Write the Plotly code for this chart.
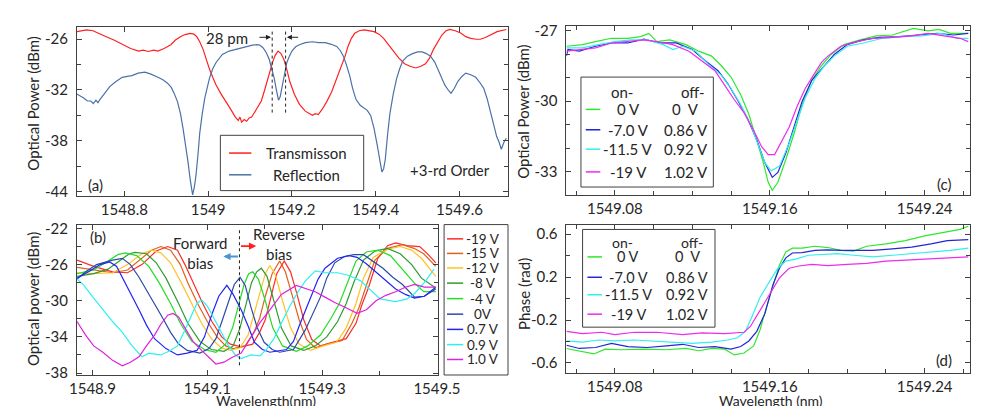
import plotly.graph_objects as go

# ---------------- Panel (a): transmission / reflection ----------------
a_trans_x = [1548.687, 1548.700, 1548.710, 1548.725, 1548.740, 1548.757, 1548.775, 1548.795, 1548.815, 1548.834,
             1548.845, 1548.857, 1548.870, 1548.880, 1548.895, 1548.911, 1548.922, 1548.934, 1548.945, 1548.957,
             1548.966, 1548.973, 1548.980, 1548.988, 1548.995, 1549.003, 1549.011, 1549.019, 1549.030, 1549.042,
             1549.053, 1549.065, 1549.072, 1549.076, 1549.080, 1549.086, 1549.092, 1549.098, 1549.104, 1549.115,
             1549.127, 1549.135, 1549.142, 1549.148, 1549.154, 1549.160, 1549.167, 1549.174, 1549.181, 1549.188,
             1549.195, 1549.206, 1549.218, 1549.232, 1549.242, 1549.249, 1549.256, 1549.263, 1549.272, 1549.283,
             1549.295, 1549.307, 1549.319, 1549.327, 1549.334, 1549.342, 1549.350, 1549.361, 1549.373, 1549.385,
             1549.396, 1549.408, 1549.419, 1549.430, 1549.442, 1549.455, 1549.469, 1549.482, 1549.496, 1549.508,
             1549.519, 1549.529, 1549.538, 1549.548, 1549.558, 1549.568, 1549.577, 1549.590, 1549.604, 1549.615,
             1549.627, 1549.640, 1549.650, 1549.662, 1549.673, 1549.690, 1549.712]
a_trans_y = [-25.1, -24.95, -24.9, -25.0, -25.3, -25.7, -26.1, -26.65, -27.1, -27.4,
             -27.3, -27.45, -27.3, -27.4, -27.1, -26.65, -26.1, -25.7, -25.45, -25.3,
             -25.4, -25.7, -26.3, -27.2, -28.3, -29.5, -30.5, -31.4, -32.4, -33.3,
             -34.2, -35.2, -35.6, -35.2, -35.8, -35.5, -35.7, -35.3, -35.2, -34.3,
             -33.3, -32.0, -30.65, -29.6, -28.7, -27.9, -27.4, -27.7, -28.4, -29.6,
             -31.0, -32.5, -33.7, -34.5, -34.8, -35.0, -34.8, -34.9, -34.3, -33.4,
             -32.2, -30.7, -29.1, -28.0, -26.85, -25.9, -25.3, -25.0, -24.9, -25.0,
             -25.1, -25.4, -25.9, -26.6, -27.4, -28.2, -28.9, -29.2, -29.4, -29.2,
             -28.9, -28.2, -27.2, -26.3, -25.5, -25.0, -24.85, -25.0, -25.3, -25.7,
             -25.9, -26.0, -26.0, -25.8, -25.5, -25.1, -24.85]

a_refl_x = [1548.684, 1548.695, 1548.703, 1548.712, 1548.720, 1548.726, 1548.732, 1548.737, 1548.742, 1548.753,
            1548.765, 1548.780, 1548.795, 1548.807, 1548.818, 1548.833, 1548.849, 1548.862, 1548.872, 1548.880,
            1548.892, 1548.903, 1548.912, 1548.919, 1548.927, 1548.934, 1548.940, 1548.946, 1548.952, 1548.957,
            1548.963, 1548.967, 1548.971, 1548.976, 1548.980, 1548.986, 1548.992, 1549.003, 1549.011, 1549.019,
            1549.034, 1549.050, 1549.065, 1549.080, 1549.096, 1549.106, 1549.115, 1549.123, 1549.131, 1549.139,
            1549.146, 1549.152, 1549.158, 1549.163, 1549.168, 1549.172, 1549.177, 1549.182, 1549.188, 1549.194,
            1549.200, 1549.209, 1549.218, 1549.232, 1549.249, 1549.264, 1549.280, 1549.294, 1549.307, 1549.315,
            1549.323, 1549.330, 1549.338, 1549.345, 1549.353, 1549.363, 1549.373, 1549.380, 1549.388, 1549.396,
            1549.403, 1549.410, 1549.415, 1549.419, 1549.423, 1549.428, 1549.434, 1549.442, 1549.450, 1549.458,
            1549.465, 1549.476, 1549.488, 1549.500, 1549.511, 1549.521, 1549.531, 1549.541, 1549.550, 1549.558,
            1549.565, 1549.573, 1549.580, 1549.588, 1549.596, 1549.606, 1549.615, 1549.627, 1549.639, 1549.650,
            1549.658, 1549.666, 1549.673, 1549.681, 1549.689, 1549.695, 1549.700, 1549.706, 1549.712]
a_refl_y = [-32.4, -32.7, -32.95, -33.3, -33.3, -33.6, -33.2, -33.5, -33.1, -32.4,
            -31.6, -31.0, -30.5, -30.4, -30.3, -30.0, -29.9, -30.1, -30.3, -30.5,
            -30.8, -31.2, -31.7, -32.4, -33.4, -34.8, -36.5, -38.3, -40.5, -42.5,
            -44.4, -43.5, -42.1, -39.5, -37.1, -34.8, -32.95, -30.65, -29.5, -28.75,
            -27.8, -27.4, -27.2, -27.0, -26.85, -26.7, -26.65, -26.7, -27.0, -27.6,
            -28.4, -29.4, -30.65, -32.0, -33.2, -32.8, -31.4, -30.0, -28.75, -28.0,
            -27.4, -26.9, -26.65, -26.4, -26.3, -26.4, -26.4, -26.6, -26.85, -27.3,
            -28.0, -29.0, -30.3, -31.8, -33.1, -33.8, -34.1, -34.4, -35.0, -36.5,
            -38.3, -40.3, -41.7, -41.3, -40.2, -37.5, -34.8, -32.5, -30.65, -29.4,
            -28.55, -28.0, -27.7, -27.5, -27.5, -27.7, -28.0, -28.7, -29.7, -30.6,
            -31.4, -32.0, -32.4, -31.8, -31.0, -30.4, -30.0, -30.2, -30.5, -31.2,
            -31.8, -33.0, -34.45, -36.0, -37.5, -38.2, -39.0, -38.2, -37.7]

# ---------------- Panel (b): bias sweep ----------------
b_labels = ["-19 V", "-15 V", "-12 V", "-8 V", "-4 V", "0V", "0.7 V", "0.9 V", "1.0 V"]
b_colors = ["#ff2a2a", "#e0601a", "#ffc226", "#2f9a2f", "#22dd22", "#2a4aa8", "#2323f5", "#2ef0f0", "#dd22dd"]

b_m19_x = [1548.873, 1548.902, 1548.935, 1548.961, 1548.986, 1549.011, 1549.031, 1549.048, 1549.061, 1549.075,
           1549.092, 1549.108, 1549.125, 1549.140, 1549.159, 1549.179, 1549.191, 1549.201, 1549.211, 1549.221,
           1549.234, 1549.245, 1549.255, 1549.268, 1549.282, 1549.297, 1549.318, 1549.342, 1549.359, 1549.369,
           1549.381, 1549.397, 1549.414, 1549.428, 1549.448, 1549.470, 1549.485, 1549.498]
b_m19_y = [-25.5, -26.2, -26.8, -26.9, -26.0, -24.5, -24.0, -24.4, -26.0, -28.0,
           -30.3, -32.3, -34.0, -34.8, -35.1, -34.8, -33.5, -32.1, -29.5, -27.0,
           -25.6, -26.8, -29.0, -32.1, -34.3, -35.0, -34.6, -34.2, -32.5, -30.5,
           -28.5, -25.3, -23.9, -23.6, -23.9, -24.0, -24.9, -25.8]

b_m15_x = [1548.873, 1548.902, 1548.935, 1548.961, 1548.982, 1549.003, 1549.019, 1549.036, 1549.053, 1549.066,
           1549.083, 1549.100, 1549.117, 1549.132, 1549.145, 1549.166, 1549.181, 1549.191, 1549.201, 1549.213,
           1549.226, 1549.236, 1549.246, 1549.260, 1549.273, 1549.288, 1549.308, 1549.335, 1549.352, 1549.364,
           1549.376, 1549.392, 1549.414, 1549.440, 1549.460, 1549.477, 1549.498]
b_m15_y = [-26.3, -26.6, -26.9, -26.6, -25.5, -24.4, -24.0, -24.4, -26.0, -28.0,
           -30.3, -32.3, -34.0, -35.0, -35.3, -35.0, -33.5, -32.0, -29.5, -27.0,
           -25.6, -26.8, -29.0, -32.1, -34.3, -35.2, -34.8, -34.4, -32.5, -30.8,
           -28.5, -25.5, -24.2, -23.8, -24.2, -24.8, -26.2]

b_m12_x = [1548.873, 1548.902, 1548.935, 1548.961, 1548.986, 1549.003, 1549.019, 1549.036, 1549.053, 1549.073,
           1549.090, 1549.107, 1549.124, 1549.140, 1549.157, 1549.171, 1549.181, 1549.191, 1549.201, 1549.209,
           1549.219, 1549.231, 1549.245, 1549.260, 1549.280, 1549.302, 1549.325, 1549.342, 1549.359, 1549.372,
           1549.389, 1549.414, 1549.436, 1549.456, 1549.473, 1549.498]
b_m12_y = [-26.9, -27.0, -26.9, -26.0, -24.8, -24.4, -24.7, -25.8, -27.8, -30.3,
           -32.5, -34.2, -35.2, -35.5, -35.2, -33.8, -31.5, -29.0, -27.0, -26.1,
           -27.2, -30.0, -33.0, -34.8, -35.5, -35.0, -34.6, -33.0, -30.3, -27.5,
           -25.2, -24.3, -24.0, -24.4, -25.3, -27.3]

b_m8_x = [1548.873, 1548.902, 1548.927, 1548.949, 1548.964, 1548.974, 1548.994, 1549.011, 1549.028, 1549.050,
          1549.066, 1549.087, 1549.107, 1549.129, 1549.145, 1549.157, 1549.167, 1549.177, 1549.186, 1549.194,
          1549.204, 1549.216, 1549.229, 1549.246, 1549.268, 1549.288, 1549.308, 1549.327, 1549.342, 1549.355,
          1549.372, 1549.392, 1549.414, 1549.436, 1549.456, 1549.473, 1549.498]
b_m8_y = [-27.3, -27.0, -26.5, -25.5, -24.8, -24.65, -24.8, -25.8, -27.5, -30.3,
          -32.5, -34.5, -35.4, -35.6, -35.0, -33.0, -30.5, -28.0, -26.8, -26.4,
          -27.3, -30.0, -33.0, -35.0, -35.5, -35.0, -34.0, -32.3, -30.3, -28.0,
          -25.5, -24.5, -24.2, -24.8, -26.0, -27.5, -28.6]

b_m4_x = [1548.873, 1548.902, 1548.927, 1548.944, 1548.957, 1548.977, 1548.998, 1549.016, 1549.036, 1549.053,
          1549.073, 1549.095, 1549.115, 1549.132, 1549.144, 1549.154, 1549.164, 1549.172, 1549.179, 1549.189,
          1549.201, 1549.214, 1549.231, 1549.255, 1549.275, 1549.297, 1549.315, 1549.330, 1549.344, 1549.359,
          1549.377, 1549.397, 1549.419, 1549.440, 1549.460, 1549.477, 1549.498]
b_m4_y = [-27.0, -26.6, -25.6, -24.9, -24.7, -25.0, -26.2, -28.0, -30.3, -32.5,
          -34.5, -35.4, -35.7, -34.8, -33.0, -30.5, -28.2, -27.0, -26.8, -27.6,
          -30.0, -33.0, -35.0, -35.6, -35.0, -33.8, -32.0, -30.3, -28.0, -25.6,
          -24.6, -24.4, -25.0, -26.5, -28.0, -29.0, -29.0]

b_0_x = [1548.873, 1548.888, 1548.907, 1548.935, 1548.952, 1548.966, 1548.981, 1548.994, 1549.008, 1549.023,
         1549.036, 1549.050, 1549.065, 1549.087, 1549.103, 1549.115, 1549.127, 1549.137, 1549.147, 1549.157,
         1549.166, 1549.176, 1549.187, 1549.199, 1549.213, 1549.226, 1549.250, 1549.271, 1549.283, 1549.297,
         1549.308, 1549.322, 1549.339, 1549.355, 1549.372, 1549.389, 1549.406, 1549.423, 1549.440, 1549.461,
         1549.478, 1549.498]
b_0_y = [-27.6, -26.8, -26.0, -25.5, -25.3, -26.0, -27.4, -28.8, -30.3, -32.0,
         -33.5, -34.8, -35.5, -35.8, -35.3, -34.2, -32.0, -30.0, -28.2, -27.4,
         -28.3, -30.7, -33.0, -34.6, -35.4, -35.7, -35.4, -33.2, -31.5, -29.6,
         -27.5, -25.8, -25.1, -24.9, -24.9, -25.6, -26.4, -27.4, -28.2, -29.6,
         -29.5, -28.7]

b_p07_x = [1548.873, 1548.893, 1548.913, 1548.930, 1548.942, 1548.952, 1548.966, 1548.981, 1548.994, 1549.008,
           1549.028, 1549.048, 1549.065, 1549.082, 1549.095, 1549.108, 1549.120, 1549.134, 1549.145, 1549.159,
           1549.171, 1549.182, 1549.196, 1549.209, 1549.238, 1549.250, 1549.260, 1549.271, 1549.283, 1549.293,
           1549.305, 1549.327, 1549.347, 1549.361, 1549.377, 1549.394, 1549.411, 1549.428, 1549.445, 1549.461,
           1549.478, 1549.498]
b_p07_y = [-27.5, -26.8, -26.0, -25.7, -26.2, -27.4, -29.2, -31.0, -32.7, -34.2,
           -35.3, -36.0, -35.8, -35.5, -34.0, -31.5, -29.5, -28.3, -29.3, -31.0,
           -32.8, -34.6, -35.4, -35.7, -35.4, -34.5, -32.8, -31.0, -29.2, -27.6,
           -26.4, -25.3, -25.0, -25.2, -25.9, -26.8, -27.8, -28.7, -29.3, -29.7,
           -29.5, -28.5]

b_p09_x = [1548.873, 1548.885, 1548.902, 1548.918, 1548.935, 1548.952, 1548.969, 1548.986, 1548.998, 1549.008,
           1549.019, 1549.033, 1549.048, 1549.061, 1549.073, 1549.082, 1549.090, 1549.100, 1549.112, 1549.125,
           1549.137, 1549.149, 1549.159, 1549.176, 1549.192, 1549.204, 1549.216, 1549.229, 1549.243, 1549.258,
           1549.271, 1549.288, 1549.305, 1549.327, 1549.347, 1549.367, 1549.384, 1549.401, 1549.428, 1549.448,
           1549.461, 1549.478, 1549.495]
b_p09_y = [-27.6, -28.3, -29.7, -31.0, -32.3, -33.5, -35.0, -36.2, -35.8, -35.9,
           -36.0, -35.6, -35.0, -33.2, -31.5, -30.3, -29.9, -30.6, -32.0, -33.5,
           -35.0, -36.0, -36.4, -36.0, -36.1, -35.3, -34.2, -32.5, -30.7, -29.0,
           -27.8, -26.7, -26.9, -26.9, -27.2, -27.8, -28.8, -29.8, -30.1, -29.8,
           -29.2, -28.0, -26.5]

b_p10_x = [1548.873, 1548.888, 1548.902, 1548.918, 1548.935, 1548.952, 1548.966, 1548.981, 1548.994, 1549.008,
           1549.019, 1549.031, 1549.040, 1549.050, 1549.061, 1549.075, 1549.090, 1549.103, 1549.115, 1549.129,
           1549.142, 1549.159, 1549.176, 1549.192, 1549.209, 1549.229, 1549.255, 1549.271, 1549.288, 1549.305,
           1549.322, 1549.339, 1549.361, 1549.377, 1549.394, 1549.411, 1549.428, 1549.445, 1549.461, 1549.478,
           1549.498]
b_p10_y = [-32.3, -33.8, -35.0, -35.7, -36.6, -37.2, -36.8, -36.2, -35.0, -33.8,
           -32.6, -31.6, -31.4, -31.8, -33.0, -34.5, -35.5, -36.3, -37.0, -36.8,
           -36.3, -35.8, -34.0, -32.4, -31.0, -29.3, -28.3, -28.6, -29.0, -29.6,
           -30.2, -30.7, -31.4, -31.0, -30.0, -29.4, -29.0, -28.5, -28.2, -28.5,
           -28.5]

b_series = [(b_m19_x, b_m19_y), (b_m15_x, b_m15_y), (b_m12_x, b_m12_y), (b_m8_x, b_m8_y), (b_m4_x, b_m4_y),
            (b_0_x, b_0_y), (b_p07_x, b_p07_y), (b_p09_x, b_p09_y), (b_p10_x, b_p10_y)]

# ---------------- Panels (c) and (d) ----------------
cd_on = ["0 V", "-7.0 V", "-11.5 V", "-19 V"]
cd_off = ["0  V", "0.86 V", "0.92 V", "1.02 V"]
cd_colors = ["#2ee82e", "#2424d8", "#33eeee", "#ee2aee"]

c_g_x = [1549.055, 1549.0633, 1549.07, 1549.0783, 1549.0867, 1549.0933, 1549.0975, 1549.1017, 1549.1083, 1549.1167,
         1549.1233, 1549.13, 1549.135, 1549.14, 1549.145, 1549.1492, 1549.1533, 1549.1567, 1549.1592, 1549.1613,
         1549.1642, 1549.1683, 1549.1725, 1549.1767, 1549.1817, 1549.1867, 1549.1917, 1549.1983, 1549.2067, 1549.215,
         1549.2233, 1549.2342, 1549.2417, 1549.2475, 1549.2533, 1549.2625]
c_g_y = [-27.66, -27.59, -27.46, -27.32, -27.32, -27.25, -27.11, -27.46, -27.39, -27.59,
         -27.87, -28.08, -28.49, -28.97, -29.73, -30.56, -31.66, -32.63, -33.46, -33.80,
         -33.46, -32.49, -31.39, -30.14, -29.11, -28.49, -28.01, -27.59, -27.39, -27.22,
         -27.18, -26.90, -27.0, -26.94, -27.11, -27.11]

c_b_x = [1549.055, 1549.0558, 1549.0617, 1549.07, 1549.0783, 1549.0867, 1549.095, 1549.1033, 1549.1117, 1549.12,
         1549.1267, 1549.1333, 1549.1383, 1549.1433, 1549.1483, 1549.1533, 1549.1575, 1549.1613, 1549.1642, 1549.1683,
         1549.1725, 1549.1767, 1549.1817, 1549.1867, 1549.1933, 1549.2, 1549.2083, 1549.2167, 1549.2267, 1549.2367,
         1549.2467, 1549.255, 1549.2625]
c_b_y = [-28.08, -27.80, -27.87, -27.66, -27.52, -27.52, -27.36, -27.52, -27.52, -27.80,
         -28.28, -28.70, -29.25, -29.94, -30.70, -31.66, -32.63, -33.25, -33.04, -32.21,
         -31.11, -30.01, -29.11, -28.63, -28.01, -27.59, -27.39, -27.28, -27.25, -27.18,
         -27.11, -27.18, -27.11]

c_c_x = [1549.055, 1549.0633, 1549.0717, 1549.08, 1549.0883, 1549.0967, 1549.105, 1549.11, 1549.115, 1549.1217,
         1549.1283, 1549.135, 1549.14, 1549.145, 1549.15, 1549.1542, 1549.1575, 1549.1608, 1549.165, 1549.17,
         1549.1742, 1549.1783, 1549.1833, 1549.1883, 1549.1933, 1549.2, 1549.2083, 1549.2183, 1549.2283, 1549.2383,
         1549.2483, 1549.2567, 1549.2625]
c_c_y = [-27.73, -27.73, -27.59, -27.46, -27.39, -27.39, -27.59, -27.80, -27.66, -27.87,
         -28.42, -28.90, -29.46, -30.14, -30.97, -31.94, -32.63, -32.97, -32.77, -31.80,
         -30.83, -29.87, -29.04, -28.49, -28.08, -27.66, -27.52, -27.32, -27.25, -27.22,
         -27.11, -27.32, -27.32]

c_m_x = [1549.055, 1549.0617, 1549.07, 1549.0783, 1549.0867, 1549.095, 1549.1017, 1549.11, 1549.1183, 1549.125,
         1549.1317, 1549.1367, 1549.1417, 1549.1467, 1549.1517, 1549.1558, 1549.1592, 1549.1625, 1549.1667, 1549.17,
         1549.1742, 1549.1783, 1549.1825, 1549.1867, 1549.19, 1549.1967, 1549.205, 1549.2133, 1549.2233, 1549.2333,
         1549.2417, 1549.25, 1549.2583, 1549.2625]
c_m_y = [-27.87, -27.80, -27.73, -27.52, -27.46, -27.39, -27.46, -27.59, -27.87, -28.28,
         -28.70, -29.32, -29.94, -30.49, -31.25, -31.94, -32.28, -32.28, -31.66, -31.11,
         -30.21, -29.46, -28.90, -28.35, -28.08, -27.66, -27.46, -27.32, -27.28, -27.22,
         -27.11, -27.22, -27.32, -27.46]

d_g_x = [1549.055, 1549.0617, 1549.0692, 1549.075, 1549.0833, 1549.095, 1549.1067, 1549.1167, 1549.1233, 1549.13,
         1549.1367, 1549.1417, 1549.1467, 1549.1517, 1549.155, 1549.1583, 1549.1617, 1549.165, 1549.1683, 1549.1717,
         1549.1767, 1549.1833, 1549.19, 1549.1967, 1549.2033, 1549.21, 1549.22, 1549.23, 1549.24, 1549.25,
         1549.2583, 1549.2625]
d_g_y = [-0.465, -0.486, -0.516, -0.471, -0.477, -0.471, -0.477, -0.465, -0.486, -0.465,
         -0.471, -0.525, -0.507, -0.441, -0.290, -0.079, 0.132, 0.313, 0.434, 0.470,
         0.470, 0.488, 0.476, 0.449, 0.443, 0.488, 0.510, 0.540, 0.585, 0.621,
         0.645, 0.675]

d_b_x = [1549.055, 1549.0617, 1549.07, 1549.0783, 1549.0867, 1549.0967, 1549.1067, 1549.115, 1549.1233, 1549.1317,
         1549.14, 1549.145, 1549.1492, 1549.1533, 1549.1575, 1549.1617, 1549.165, 1549.1683, 1549.1717, 1549.1767,
         1549.1833, 1549.19, 1549.1967, 1549.2033, 1549.2133, 1549.2233, 1549.2333, 1549.2433, 1549.2517, 1549.2625]
d_b_y = [-0.435, -0.465, -0.456, -0.417, -0.447, -0.456, -0.441, -0.426, -0.456, -0.447,
         -0.471, -0.447, -0.395, -0.305, -0.139, 0.132, 0.283, 0.380, 0.425, 0.428,
         0.449, 0.455, 0.449, 0.449, 0.449, 0.464, 0.479, 0.510, 0.540, 0.549]

d_c_x = [1549.055, 1549.0633, 1549.0717, 1549.08, 1549.09, 1549.1, 1549.11, 1549.12, 1549.13, 1549.1383,
         1549.1433, 1549.1475, 1549.1508, 1549.155, 1549.16, 1549.1642, 1549.1683, 1549.1733, 1549.18, 1549.1867,
         1549.195, 1549.2033, 1549.2133, 1549.2233, 1549.2333, 1549.2433, 1549.2533, 1549.2625]
d_c_y = [-0.395, -0.405, -0.386, -0.395, -0.386, -0.395, -0.405, -0.417, -0.405, -0.386,
         -0.365, -0.305, -0.169, 0.012, 0.163, 0.283, 0.350, 0.368, 0.404, 0.410,
         0.419, 0.404, 0.389, 0.404, 0.419, 0.434, 0.449, 0.470]

d_m_x = [1549.055, 1549.0633, 1549.0733, 1549.08, 1549.09, 1549.1017, 1549.115, 1549.125, 1549.1367, 1549.1467,
         1549.15, 1549.155, 1549.16, 1549.165, 1549.17, 1549.175, 1549.1817, 1549.19, 1549.2, 1549.21,
         1549.22, 1549.23, 1549.24, 1549.25, 1549.2625]
d_m_y = [-0.305, -0.326, -0.314, -0.335, -0.314, -0.314, -0.335, -0.320, -0.326, -0.314,
         -0.260, -0.109, 0.042, 0.193, 0.283, 0.304, 0.319, 0.307, 0.319, 0.328,
         0.350, 0.359, 0.368, 0.374, 0.389]

c_series = [(c_g_x, c_g_y), (c_b_x, c_b_y), (c_c_x, c_c_y), (c_m_x, c_m_y)]
d_series = [(d_g_x, d_g_y), (d_b_x, d_b_y), (d_c_x, d_c_y), (d_m_x, d_m_y)]

# tick labels
a_yticks = [-26, -32, -38, -44]
b_yticks = [-22, -26, -30, -34, -38]
c_yticks = [-27, -30, -33]
d_yticks = [0.6, 0.2, -0.2, -0.6]

FONT = "Lato"
TXT = "#262626"
AX = "#404040"
W, H = 985, 406

fig = go.Figure()
LW = 1.2
fig.add_trace(go.Scatter(x=a_trans_x, y=a_trans_y, mode="lines", line=dict(color="#ff2020", width=LW),
                         name="Transmisson", xaxis="x", yaxis="y", showlegend=False))
fig.add_trace(go.Scatter(x=a_refl_x, y=a_refl_y, mode="lines", line=dict(color="#4a72a8", width=LW),
                         name="Reflection", xaxis="x", yaxis="y", showlegend=False))
for (xs, ys), lab, col in zip(b_series, b_labels, b_colors):
    fig.add_trace(go.Scatter(x=xs, y=ys, mode="lines", line=dict(color=col, width=LW), name=lab,
                             xaxis="x2", yaxis="y2", showlegend=False))
for (xs, ys), lab, col in zip(c_series, cd_on, cd_colors):
    fig.add_trace(go.Scatter(x=xs, y=ys, mode="lines", line=dict(color=col, width=LW), name=lab,
                             xaxis="x3", yaxis="y3", showlegend=False))
for (xs, ys), lab, col in zip(d_series, cd_on, cd_colors):
    fig.add_trace(go.Scatter(x=xs, y=ys, mode="lines", line=dict(color=col, width=LW), name=lab,
                             xaxis="x4", yaxis="y4", showlegend=False))


def px(xp):
    return xp / W


def py(yp):
    return 1 - yp / H


def axis(domain, rng, anchor, **kw):
    d = dict(domain=domain, range=rng, anchor=anchor, showline=True, linecolor=AX, linewidth=1,
             mirror="ticks", ticks="inside", ticklen=5, tickcolor=AX, tickwidth=1, showgrid=False,
             zeroline=False, tickfont=dict(family=FONT, size=15, color=TXT))
    d.update(kw)
    return d


def minor(dt, t0):
    return dict(ticks="inside", ticklen=4, tickcolor=AX, dtick=dt, tick0=t0, showgrid=False)


fig.update_layout(
    width=W, height=H, autosize=False, margin=dict(l=0, r=0, t=0, b=0),
    paper_bgcolor="white", plot_bgcolor="white", showlegend=False,
    font=dict(family=FONT, size=15, color=TXT),
    xaxis=axis([px(63), px(508)], [1548.687, 1549.716], "y", tick0=1548.8, dtick=0.2, tickformat="~f"),
    yaxis=axis([py(188), py(13)], [-44.58, -24.51], "x", tickmode="array", tickvals=a_yticks,
               ticktext=[str(v) for v in a_yticks], minor=minor(3, -26), ticklabelstandoff=5),
    xaxis2=axis([px(63), px(435.5)], [1548.873, 1549.5015], "y2", tick0=1548.9, dtick=0.2, tickformat=".1f",
                minor=minor(0.1, 1548.9)),
    yaxis2=axis([py(372), py(217)], [-38.22, -21.57], "x2", tickmode="array", tickvals=b_yticks,
                ticktext=[str(v) for v in b_yticks], minor=minor(2, -22), ticklabelstandoff=5),
    xaxis3=axis([px(568.3), 1.0], [1549.055, 1549.2634], "y3", tick0=1549.08, dtick=0.08, tickformat=".2f",
                minor=minor(0.02, 1549.08)),
    yaxis3=axis([py(186), py(12.7)], [-33.98, -26.81], "x3", tickmode="array", tickvals=c_yticks,
                ticktext=[str(v) for v in c_yticks], minor=minor(1, -27), ticklabelstandoff=5),
    xaxis4=axis([px(568.3), 1.0], [1549.055, 1549.2634], "y4", tick0=1549.08, dtick=0.08, tickformat=".2f",
                minor=minor(0.02, 1549.08)),
    yaxis4=axis([py(370.3), py(217)], [-0.697, 0.69], "x4", tickmode="array", tickvals=d_yticks,
                ticktext=[str(v) for v in d_yticks], minor=minor(0.2, -0.6), ticklabelstandoff=5),
)

shapes = []
ann = []


def text(x, y, s, size=15, angle=0, xanchor="center"):
    ann.append(dict(x=x, y=y, xref="paper", yref="paper", text=s, showarrow=False, textangle=angle,
                    xanchor=xanchor, yanchor="middle", font=dict(family=FONT, size=size, color=TXT)))


# dotted marker lines in (a) and (b)
for xv in (1549.153, 1549.185):
    shapes.append(dict(type="line", xref="x", yref="y", x0=xv, x1=xv, y0=-25.1, y1=-35.0,
                       line=dict(color="#202020", width=1, dash="dot")))
shapes.append(dict(type="line", xref="x2", yref="y2", x0=1549.156, x1=1549.156, y0=-22.2, y1=-37.25,
                   line=dict(color="#202020", width=1, dash="dot")))

# arrows in (a)
ann.append(dict(x=1549.150, y=-25.77, ax=1549.119, ay=-25.77, xref="x", yref="y", axref="x", ayref="y",
                text="", showarrow=True, arrowhead=2, arrowsize=1, arrowwidth=1, arrowcolor="#202020"))
ann.append(dict(x=1549.188, y=-25.77, ax=1549.2185, ay=-25.77, xref="x", yref="y", axref="x", ayref="y",
                text="", showarrow=True, arrowhead=2, arrowsize=1, arrowwidth=1, arrowcolor="#202020"))
# arrows in (b)
ann.append(dict(x=1549.128, y=-25.1, ax=1549.156, ay=-25.1, xref="x2", yref="y2", axref="x2", ayref="y2",
                text="", showarrow=True, arrowhead=2, arrowsize=0.8, arrowwidth=1.8, arrowcolor="#4d94d6"))
ann.append(dict(x=1549.185, y=-23.95, ax=1549.156, ay=-23.95, xref="x2", yref="y2", axref="x2", ayref="y2",
                text="", showarrow=True, arrowhead=2, arrowsize=0.8, arrowwidth=1.8, arrowcolor="#ff2020"))

text(px(217.5), py(24.3), "28 pm")
text(px(447.7), py(161), "+3-rd Order")
text(px(82), py(175.7), "(a)")
text(px(85), py(230), "(b)")
text(px(190), py(245.8), "Forward<br>bias")
text(px(272), py(237.2), "Reverse<br>bias")
text(px(958.3), py(175), "(c)")
text(px(958.3), py(357), "(d)")

# axis titles
text(px(18), py(92), "Optical Power (dBm)", angle=-90)
text(px(18.3), py(294), "Optical power (dBm)", angle=-90)
text(px(523.3), py(101), "Optical Power (dBm)", angle=-90)
text(px(525), py(288), "Phase (rad)", angle=-90)
text(px(258), py(398), "Wavelength(nm)", size=14)
text(px(780), py(398), "Wavelength (nm)", size=14)


def box(x0, y0, x1, y1):
    shapes.append(dict(type="rect", xref="paper", yref="paper", x0=px(x0), x1=px(x1), y0=py(y1), y1=py(y0),
                       fillcolor="white", line=dict(color=AX, width=1), layer="above"))


def key(x0, x1, yp, col):
    shapes.append(dict(type="line", xref="paper", yref="paper", x0=px(x0), x1=px(x1), y0=py(yp), y1=py(yp),
                       line=dict(color=col, width=1.5), layer="above"))


# legend (a)
box(211, 125, 359, 182)
key(220, 243, 143.3, "#ff2020")
key(220, 243, 165.7, "#4a72a8")
text(px(300), py(143.3), "Transmisson")
text(px(300), py(165.7), "Reflection")

# legend (b)
box(442, 217, 508, 372)
b_rows = [231.7, 246.7, 261.7, 277.3, 293.3, 309.3, 325, 340.7, 356]
for yp, lab, col in zip(b_rows, b_labels, b_colors):
    key(445, 461.7, yp, col)
    text(px(482), py(yp), lab, size=13.5)

# legend (c)
box(583.3, 65, 720, 178.3)
text(px(625.7), py(80), "on-")
text(px(699), py(80), "off-")
c_rows = [98.3, 119.3, 139.3, 162.7]
for yp, on, off, col in zip(c_rows, cd_on, cd_off, cd_colors):
    key(588.3, 603.3, yp, col)
    text(px(632), py(yp), on)
    text(px(691.5), py(yp), off.replace("  ", "\u00a0\u00a0"))

# legend (d)
box(585, 222, 721.7, 322.7)
text(px(625.7), py(235.3), "on-", size=14)
text(px(698), py(235.3), "off-", size=14)
d_rows = [250.3, 271.3, 289.3, 309.3]
for yp, on, off, col in zip(d_rows, cd_on, cd_off, cd_colors):
    key(590, 605, yp, col)
    text(px(632), py(yp), on, size=14.5)
    text(px(693), py(yp), off.replace("  ", "\u00a0\u00a0"), size=14.5)

fig.update_layout(shapes=shapes, annotations=ann)
fig.write_html("out.html")
